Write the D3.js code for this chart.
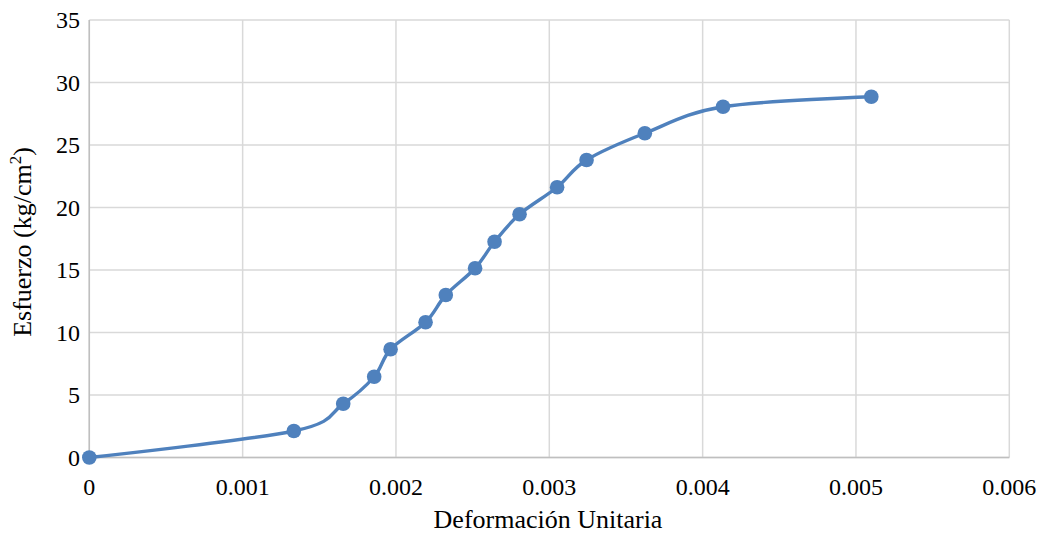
<!DOCTYPE html>
<html>
<head>
<meta charset="utf-8">
<script src="https://cdn.jsdelivr.net/npm/d3@7"></script>
<style>
  html, body { margin: 0; padding: 0; background: #fff; }
  svg { display: block; }
  text { font-family: "Liberation Serif", "Times New Roman", serif; fill: #000; }
</style>
</head>
<body>
<svg id="chart" width="1046" height="535"></svg>
<script>
// Stress-strain curve data
const strain = [0, 0.001334, 0.001656, 0.001858, 0.001965, 0.002193, 0.002325, 0.002516,
                0.002643, 0.002806, 0.003051, 0.003243, 0.003623, 0.004133, 0.005100];
const stress = [0, 2.12, 4.30, 6.46, 8.66, 10.82, 13.0, 15.14,
                17.26, 19.46, 21.62, 23.8, 25.94, 28.06, 28.86];
const xTicks = [0, 0.001, 0.002, 0.003, 0.004, 0.005, 0.006];
const xTickLabels = ["0", "0.001", "0.002", "0.003", "0.004", "0.005", "0.006"];
const yTicks = [0, 5, 10, 15, 20, 25, 30, 35];

(function () {
  const svg = d3.select("#chart");
  const pL = 89.3, pR = 1009.3, pT = 20, pB = 457.5;

  const x = d3.scaleLinear().domain([0, 0.006]).range([pL, pR]);
  const y = d3.scaleLinear().domain([0, 35]).range([pB, pT]);

  // Gridlines
  const grid = svg.append("g");
  grid.selectAll("line.v").data(xTicks).join("line").attr("class", "v")
    .attr("x1", d => x(d)).attr("x2", d => x(d))
    .attr("y1", pT).attr("y2", pB)
    .attr("stroke", "#d9d9d9").attr("stroke-width", 1.5);
  grid.selectAll("line.h").data(yTicks).join("line").attr("class", "h")
    .attr("x1", pL).attr("x2", pR)
    .attr("y1", d => y(d)).attr("y2", d => y(d))
    .attr("stroke", "#d9d9d9").attr("stroke-width", 1.5);

  // Axis lines
  svg.append("line").attr("x1", pL).attr("x2", pR).attr("y1", pB).attr("y2", pB)
    .attr("stroke", "#bfbfbf").attr("stroke-width", 1.5);
  svg.append("line").attr("x1", pL).attr("x2", pL).attr("y1", pT).attr("y2", pB)
    .attr("stroke", "#bfbfbf").attr("stroke-width", 1.5);

  // Tick labels
  svg.append("g").selectAll("text").data(xTicks).join("text")
    .attr("x", d => x(d)).attr("y", 495)
    .attr("text-anchor", "middle").attr("font-size", 24)
    .text((d, i) => xTickLabels[i]);
  svg.append("g").selectAll("text").data(yTicks).join("text")
    .attr("x", 80).attr("y", d => y(d) + 8)
    .attr("text-anchor", "end").attr("font-size", 24)
    .text(d => d);

  // Axis titles
  svg.append("text").attr("x", 548).attr("y", 528)
    .attr("text-anchor", "middle").attr("font-size", 26)
    .text("Deformación Unitaria");
  const yt = svg.append("text")
    .attr("transform", "translate(31,242) rotate(-90)")
    .attr("text-anchor", "middle").attr("font-size", 26);
  yt.append("tspan").text("Esfuerzo (kg/cm");
  yt.append("tspan").attr("dy", -10).attr("font-size", 17).text("2");
  yt.append("tspan").attr("dy", 10).text(")");

  // Smoothed curve and markers
  const pts = strain.map((s, i) => [s, stress[i]]);
  const path = d3.line().x(d => x(d[0])).y(d => y(d[1])).curve(d3.curveCatmullRom.alpha(0));
  svg.append("path").datum(pts)
    .attr("d", path).attr("fill", "none")
    .attr("stroke", "#4f81bd").attr("stroke-width", 3.4).attr("stroke-linejoin", "round");
  svg.append("g").selectAll("circle").data(pts).join("circle")
    .attr("cx", d => x(d[0])).attr("cy", d => y(d[1])).attr("r", 7.3)
    .attr("fill", "#4f81bd");
})();
</script>
</body>
</html>
